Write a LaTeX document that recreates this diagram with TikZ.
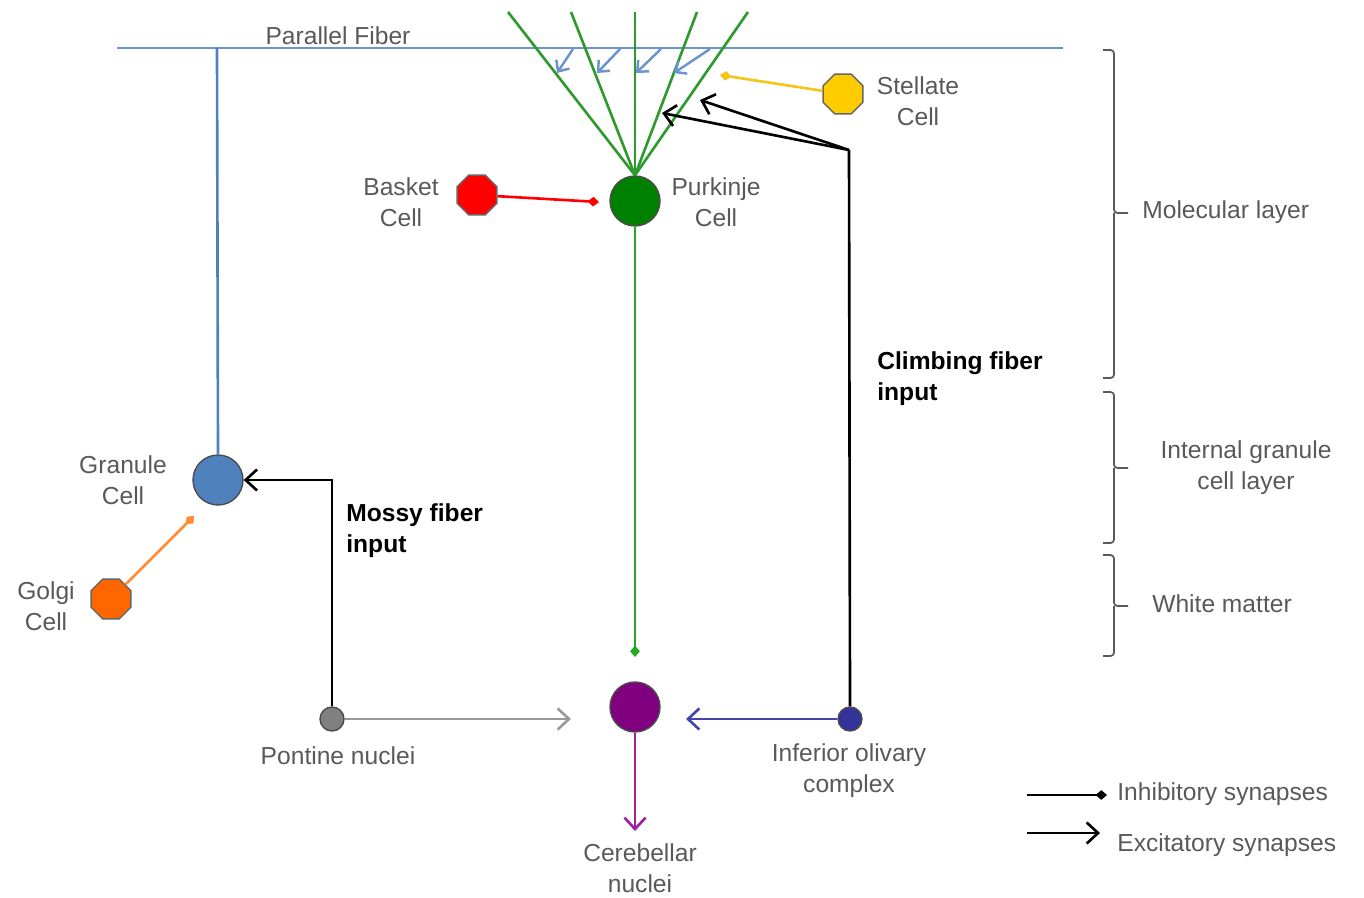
\documentclass[tikz,border=0pt]{standalone}
\usepackage{fontspec}
\setmainfont{Liberation Sans}
\usetikzlibrary{shapes.geometric,arrows.meta}
\definecolor{txtgray}{HTML}{595959}
\definecolor{pfblue}{HTML}{6A93CF}
\definecolor{granblue}{HTML}{4F81BD}
\definecolor{purkgreen}{HTML}{008000}
\definecolor{dendgreen}{HTML}{2E9A2E}
\definecolor{axgreen}{HTML}{22AA22}
\definecolor{dcnpurple}{HTML}{800080}
\definecolor{outpurple}{HTML}{A020A0}
\definecolor{ionavy}{HTML}{333399}
\definecolor{iolblue}{HTML}{4444AA}
\definecolor{golgiorange}{HTML}{FF6600}
\definecolor{golgiline}{HTML}{FF8C33}
\definecolor{stelyellow}{HTML}{FFCC00}
\definecolor{stelline}{HTML}{F5C518}
\definecolor{basketred}{HTML}{FF0000}
\definecolor{pngray}{HTML}{808080}
\definecolor{pnline}{HTML}{999999}
\tikzset{
  lbl/.style={text=txtgray, font=\fontsize{14}{17.5}\selectfont, inner sep=0pt, align=center},
  blbl/.style={text=black, font=\fontsize{14}{17.5}\selectfont\bfseries, inner sep=0pt, align=left, anchor=west},
  bigcell/.style={circle, draw=black!70, line width=0.8pt, minimum size=1cm, inner sep=0pt},
  smallcell/.style={circle, draw=black!70, line width=0.8pt, minimum size=0.48cm, inner sep=0pt},
  octo/.style={regular polygon, regular polygon sides=8, draw=black!60, line width=0.8pt, minimum size=0.86cm, inner sep=0pt},
  fiber/.style={line width=1.5pt},
  exc/.style={fiber, -{Straight Barb[length=6.5pt,width=12pt,line width=1.5pt]}},
  inh/.style={fiber, -{Diamond[length=6.5pt,width=5.5pt]}},
  bracepath/.style={draw=txtgray, line width=1pt, rounded corners=2pt},
}
\begin{document}
\begin{tikzpicture}[x=0.02cm,y=-0.02cm]
\useasboundingbox (0,0) rectangle (1364,898);

% parallel fiber
\coordinate (pfl) at (117,48);
\coordinate (pfr) at (1063,48);
\coordinate (pfj) at (217,48);
\draw[fiber, pfblue] (pfl) -- (pfr);
\node[lbl] (pftxt) at (338,36) {Parallel Fiber};

% cells
\node[bigcell, fill=purkgreen] (purk) at (635,201) {};
\node[bigcell, fill=granblue] (gran) at (218,480) {};
\node[bigcell, fill=dcnpurple] (dcn) at (635,707) {};
\node[smallcell, fill=pngray] (pn) at (332,719) {};
\node[smallcell, fill=ionavy] (io) at (850,719) {};
\node[octo, fill=basketred] (bask) at (477,195) {};
\node[octo, fill=stelyellow] (stel) at (843,94) {};
\node[octo, fill=golgiorange] (golgi) at (111,599) {};

% dendrites
\coordinate (d1) at (508,12);
\coordinate (d2) at (571,12);
\coordinate (d3) at (635,12);
\coordinate (d4) at (697,12);
\coordinate (d5) at (748,12);
\foreach \d in {d1,d2,d3,d4,d5}
  \draw[fiber, dendgreen] (purk.north) -- (\d);

% parallel fiber synapses onto dendrites
\foreach \sx/\ex/\n in {573/557/a, 620/597/b, 661/636/c, 710/674/d}{
  \coordinate (ps\n) at (\sx,49);
  \coordinate (pe\n) at (\ex,73);
  \draw[pfblue, line width=1.4pt, -{Straight Barb[length=5pt,width=9pt,line width=1.4pt]}] (ps\n) -- (pe\n);
}

% granule cell axon
\draw[fiber, granblue] (gran.north) -- (pfj);

% stellate, basket, golgi inhibitory
\coordinate (stelend) at (720,75);
\draw[inh, stelline] (stel) -- (stelend);
\coordinate (baskend) at (599,202);
\draw[inh, basketred] (bask) -- (baskend);
\coordinate (golgiend) at (194,516);
\draw[inh, golgiline] (golgi) -- (golgiend);

% purkinje axon
\coordinate (purkend) at (635,657);
\draw[inh, axgreen] (purk.south) -- (purkend);

% mossy fiber
\draw[exc, black] (pn.north) |- (gran.east);
\coordinate (pnend) at (571,719);
\draw[exc, pnline] (pn.east) -- (pnend);

% climbing fiber
\coordinate (cfk) at (849,150);
\coordinate (cfa) at (662,113);
\coordinate (cfb) at (700,100);
\draw[fiber, black] (io.north) -- (cfk);
\draw[exc, black] (cfk) -- (cfa);
\draw[exc, black] (cfk) -- (cfb);
\coordinate (ioend) at (686,719);
\draw[exc, iolblue] (io.west) -- (ioend);

% output
\coordinate (dcnend) at (635,831);
\draw[exc, outpurple] (dcn.south) -- (dcnend);

% labels
\node[lbl] (tbask) at (401,202) {Basket\\Cell};
\node[lbl] (tpurk) at (716,202) {Purkinje\\Cell};
\node[lbl] (tstel) at (918,101) {Stellate\\Cell};
\node[lbl] (tgran) at (123,480) {Granule\\Cell};
\node[lbl] (tgolgi) at (46,606) {Golgi\\Cell};
\node[blbl] (tmossy) at (346,531) {Mossy fiber\\input};
\node[blbl] (tclimb) at (877,379) {Climbing fiber\\input};
\node[lbl] (tpn) at (338,756) {Pontine nuclei};
\node[lbl] (tio) at (849,771) {Inferior olivary\\complex};
\node[lbl] (tdcn) at (640,868) {Cerebellar\\nuclei};

% braces
\path[bracepath] (1103,50) -- (1114,50) -- (1114,213) -- (1128,213);
\path[bracepath] (1114,213) -- (1114,378) -- (1103,378);
\path[bracepath] (1103,392) -- (1114,392) -- (1114,468) -- (1128,468);
\path[bracepath] (1114,468) -- (1114,543) -- (1103,543);
\path[bracepath] (1103,555) -- (1114,555) -- (1114,606) -- (1128,606);
\path[bracepath] (1114,606) -- (1114,656) -- (1103,656);
\node[lbl, anchor=west] (tmol) at (1142,212) {Molecular layer};
\node[lbl] (tigl) at (1246,468) {Internal granule\\cell layer};
\node[lbl] (twm) at (1222,604) {White matter};

% legend
\coordinate (l1a) at (1027,795);
\coordinate (l1b) at (1107,795);
\coordinate (l2a) at (1027,833);
\coordinate (l2b) at (1100,833);
\draw[inh, black] (l1a) -- (l1b);
\draw[exc, black] (l2a) -- (l2b);
\node[lbl, anchor=west] (tinh) at (1117,794) {Inhibitory synapses};
\node[lbl, anchor=west] (texc) at (1117,845) {Excitatory synapses};
\end{tikzpicture}
\end{document}
